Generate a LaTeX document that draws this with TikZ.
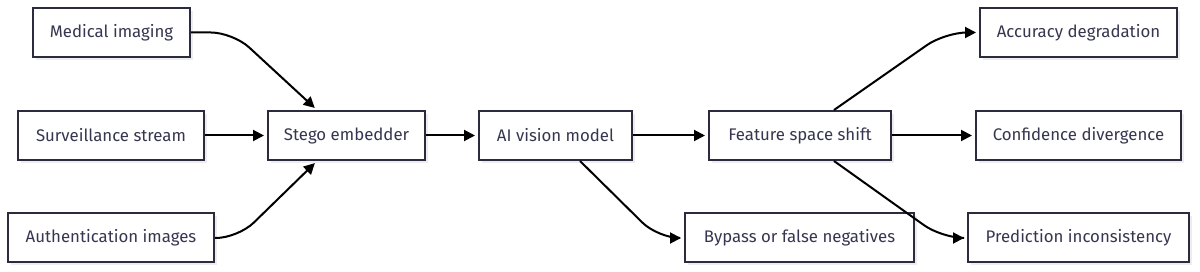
\documentclass[tikz,border=0pt]{standalone}
\usepackage{fontspec}
\setmainfont{Fira Sans}
\usetikzlibrary{arrows.meta,shadows,calc}
\definecolor{bord}{HTML}{2B2B40}
\definecolor{txt}{HTML}{363650}
\tikzset{
  box/.style={draw=bord, line width=2pt, fill=white, minimum height=49pt, inner sep=0pt,
    text=txt, font=\fontsize{16.8}{20}\selectfont,
    drop shadow={shadow xshift=3pt, shadow yshift=-3pt, fill=black!7, opacity=1}},
  arr/.style={draw=black, line width=2pt, shorten >=3pt, -{Triangle[length=11pt,width=11pt]}},
}
\begin{document}
\begin{tikzpicture}[x=1pt,y=-1pt]
\useasboundingbox[fill=white] (0,0) rectangle (1200,272);
\node[box, minimum width=157pt] (med) at (111.5,32.5) {Medical imaging};
\node[box, minimum width=186pt] (surv) at (111,135.5) {Surveillance stream};
\node[box, minimum width=206pt] (auth) at (111,238) {Authentication images};
\node[box, minimum width=157pt] (stego) at (346.5,135.5) {Stego embedder};
\node[box, minimum width=153pt] (ai) at (555.5,135.5) {AI vision model};
\node[box, minimum width=182pt] (feat) at (800,135.5) {Feature space shift};
\node[box, minimum width=229pt] (bypass) at (799.5,238) {Bypass or false negatives};
\node[box, minimum width=197pt] (acc) at (1078.5,32.5) {Accuracy degradation};
\node[box, minimum width=205pt] (conf) at (1078.5,135.5) {Confidence divergence};
\node[box, minimum width=221pt] (pred) at (1078.5,238) {Prediction inconsistency};

\coordinate (c1) at (233,32.5);
\coordinate (c2) at (238,238);
\coordinate (c3) at (658,238);
\coordinate (c4) at (945,32.5);
\coordinate (c5) at (942,238);

\draw[arr, rounded corners=22pt] (med.east) -- (c1) -- ($(stego.north)+(-29.5,0)$);
\draw[arr, rounded corners=22pt] (auth.east) -- (c2) -- ($(stego.south)+(-29.5,0)$);
\draw[arr] (surv.east) -- (stego.west);
\draw[arr] (stego.east) -- (ai.west);
\draw[arr] (ai.east) -- (feat.west);
\draw[arr] (feat.east) -- (conf.west);
\draw[arr, rounded corners=22pt] ($(ai.south)+(24.5,0)$) -- (c3) -- (bypass.west);
\draw[arr, rounded corners=22pt] ($(feat.north)+(34,0)$) -- (c4) -- (acc.west);
\draw[arr, rounded corners=22pt] ($(feat.south)+(34,0)$) -- (c5) -- (pred.west);
\end{tikzpicture}
\end{document}
